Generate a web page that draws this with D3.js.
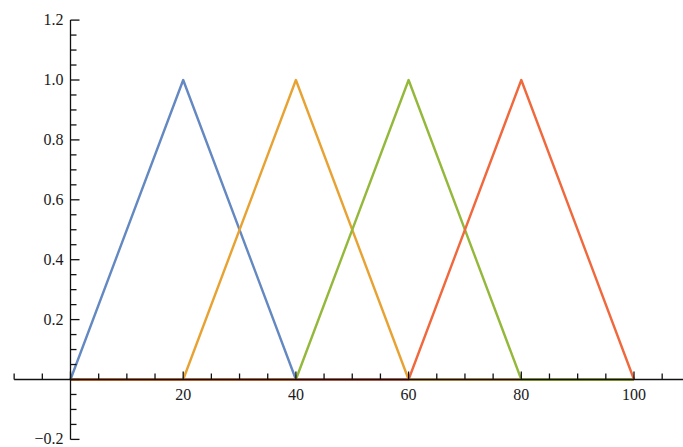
<!DOCTYPE html>
<html>
<head>
<meta charset="utf-8">
<script src="https://cdn.jsdelivr.net/npm/d3@7"></script>
<style>
  body { margin: 0; background: #fff; }
  svg { display: block; }
</style>
</head>
<body>
<div id="chart"></div>
<script>
var WIDTH = 683;
var HEIGHT = 447;

// data
var xs = [0, 20, 40, 60, 80, 100];
var blueVals = [0, 1, 0, 0, 0, 0];
var orangeVals = [0, 0, 1, 0, 0, 0];
var greenVals = [0, 0, 0, 1, 0, 0];
var redVals = [0, 0, 0, 0, 1, 0];
var xTickLabels = [20, 40, 60, 80, 100];
var yTickLabels = [-0.2, 0.2, 0.4, 0.6, 0.8, 1.0, 1.2];

var series = [
  {vals: blueVals, color: "#6388C2"},
  {vals: orangeVals, color: "#E8A232"},
  {vals: greenVals, color: "#94B83A"},
  {vals: redVals, color: "#F0683C"}
];

var x = d3.scaleLinear().domain([0, 100]).range([70.5, 634]);
var y = d3.scaleLinear().domain([0, 1]).range([379.5, 80]);

var svg = d3.select("#chart").append("svg")
  .attr("width", WIDTH)
  .attr("height", HEIGHT);

var line = d3.line()
  .x(function(d) { return x(d.x); })
  .y(function(d) { return y(d.y); });

// plot lines
svg.selectAll("path.series")
  .data(series)
  .enter()
  .append("path")
  .attr("class", "series")
  .attr("fill", "none")
  .attr("stroke", function(d) { return d.color; })
  .attr("stroke-width", 2.4)
  .attr("stroke-linejoin", "round")
  .attr("d", function(d) {
    return line(xs.map(function(v, i) { return {x: v, y: d.vals[i]}; }));
  });

var axisColor = "#111";
var FONT = "'Liberation Serif', 'Times New Roman', serif";

// x axis line
svg.append("line")
  .attr("x1", x(-10)).attr("x2", x(108.8))
  .attr("y1", y(0)).attr("y2", y(0))
  .attr("stroke", axisColor).attr("stroke-width", 1.3);

// y axis line
svg.append("line")
  .attr("x1", x(0)).attr("x2", x(0))
  .attr("y1", y(-0.2)).attr("y2", y(1.2))
  .attr("stroke", axisColor).attr("stroke-width", 1.3);

// x ticks, every 5, major every 20
var xTicks = d3.range(-10, 106, 5);
svg.selectAll("line.xtick")
  .data(xTicks)
  .enter()
  .append("line")
  .attr("class", "xtick")
  .attr("x1", function(d) { return x(d); })
  .attr("x2", function(d) { return x(d); })
  .attr("y1", y(0))
  .attr("y2", function(d) { return y(0) - (d % 20 === 0 ? 8 : 6); })
  .attr("stroke", axisColor).attr("stroke-width", 1.3);

// y ticks, every 0.05, major every 0.2
var yTicks = d3.range(-4, 25).map(function(i) { return i * 0.05; });
svg.selectAll("line.ytick")
  .data(yTicks)
  .enter()
  .append("line")
  .attr("class", "ytick")
  .attr("x1", x(0))
  .attr("x2", function(d, i) { return x(0) + ((i - 4) % 4 === 0 ? 9 : 6); })
  .attr("y1", function(d) { return y(d); })
  .attr("y2", function(d) { return y(d); })
  .attr("stroke", axisColor).attr("stroke-width", 1.3);

// x labels
svg.selectAll("text.xlab")
  .data(xTickLabels)
  .enter()
  .append("text")
  .attr("class", "xlab")
  .attr("x", function(d) { return x(d); })
  .attr("y", y(0) + 20)
  .attr("text-anchor", "middle")
  .style("font-family", FONT)
  .style("font-size", "16px")
  .attr("fill", "#1a1a1a")
  .text(function(d) { return d; });

// y labels
svg.selectAll("text.ylab")
  .data(yTickLabels)
  .enter()
  .append("text")
  .attr("class", "ylab")
  .attr("x", x(0) - 7)
  .attr("y", function(d) { return y(d) + 5; })
  .attr("text-anchor", "end")
  .style("font-family", FONT)
  .style("font-size", "16px")
  .attr("fill", "#1a1a1a")
  .text(function(d) { return (d < 0 ? "\u2212" : "") + Math.abs(d).toFixed(1); });
</script>
</body>
</html>
